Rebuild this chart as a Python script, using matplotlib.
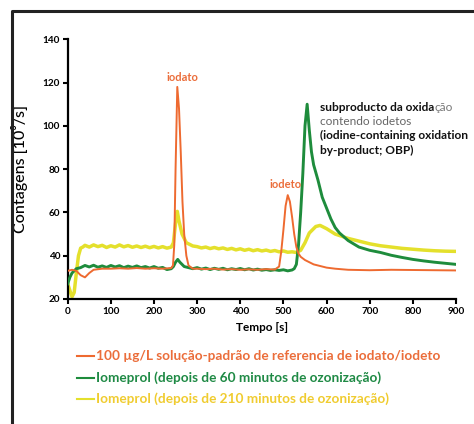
import matplotlib
matplotlib.use("Agg")
import matplotlib.pyplot as plt
from matplotlib.lines import Line2D

plt.rcParams['font.family'] = ['Lato', 'DejaVu Sans']

# ---------------- data ----------------
orange_t = [0, 10, 20, 30, 40, 50, 60, 80, 100, 120, 140, 160, 180, 200, 220, 240, 244, 247, 250, 254, 258,
            262, 266, 270, 275, 280, 290, 300, 320, 340, 360, 380, 400, 420, 440, 460, 480, 490, 495, 500, 505,
            510, 515, 520, 525, 530, 535, 540, 550, 560, 570, 580, 600, 620, 650, 700, 750, 800, 850, 900]
orange_v = [33, 33.5, 33, 31, 30, 32, 33.5, 34, 34, 34.2, 34, 34.3, 34, 34.2, 34, 34.3, 35.5, 45, 80, 118, 108,
            88, 65, 50, 40, 35.5, 34, 34, 33.8, 34, 33.6, 33.8, 33.5, 33.7, 33.5, 33.8, 33.6, 35, 42, 52, 63,
            68, 65, 58, 50, 44, 41, 39.5, 38, 37, 36, 35.5, 34.5, 34, 33.5, 33.3, 33.5, 33.4, 33.3, 33.2]

green_t = [0, 5, 10, 15, 20, 30, 40, 50, 60, 70, 80, 90, 100, 110, 120, 130, 140, 150, 160, 170, 180, 190,
           200, 210, 220, 230, 240, 245, 250, 255, 260, 265, 270, 280, 290, 300, 310, 320, 330, 340, 350,
           360, 370, 380, 390, 400, 410, 420, 430, 440, 450, 460, 470, 480, 490, 500, 510, 520, 525, 530,
           535, 540, 545, 550, 555, 560, 565, 570, 580, 590, 600, 610, 620, 630, 650, 675, 700, 725, 750,
           775, 800, 825, 850, 875, 900]
green_v = [27, 30, 32, 33, 34, 34.5, 35.5, 34.8, 35.6, 34.7, 35.3, 34.6, 35.5, 34.8, 35.4, 34.5, 35.2, 34.6,
           35.3, 34.5, 35, 34.3, 35, 34.2, 34.6, 33.6, 34, 35, 37, 38.3, 37, 36, 35, 34.5, 34, 34.5, 33.8,
           34.3, 33.6, 34.2, 33.7, 34.2, 33.5, 34, 33.6, 34.1, 33.5, 34, 33.4, 33.8, 33.3, 33.6, 33.2, 33.5,
           33.2, 33.5, 33, 33.4, 34, 36, 45, 60, 78, 100, 110, 98, 88, 82, 75, 67, 62, 57, 53, 50.5, 47, 44,
           42.5, 41.5, 40.2, 39.2, 38.3, 37.6, 37, 36.5, 36]

yellow_t = [0, 5, 10, 15, 20, 25, 30, 35, 40, 50, 60, 70, 80, 90, 100, 110, 120, 130, 140, 150, 160, 170,
            180, 190, 200, 210, 220, 230, 240, 245, 250, 254, 258, 265, 275, 290, 300, 310, 320, 330, 340,
            350, 360, 370, 380, 390, 400, 410, 420, 430, 440, 450, 460, 470, 480, 490, 500, 510, 520, 530,
            540, 550, 560, 575, 585, 600, 620, 650, 680, 700, 725, 750, 775, 800, 825, 850, 875, 900]
yellow_v = [27, 24, 21, 23, 32, 40, 43.5, 44, 44.8, 44, 45, 44.2, 44.8, 43.8, 44.6, 44, 45, 44.1, 44.7,
            43.9, 44.5, 43.8, 44.4, 43.7, 44.3, 43.6, 44.2, 43.5, 44, 46, 55, 60.5, 56, 50, 46, 44.5, 44.2,
            43.6, 44, 43.3, 43.8, 43.2, 43.6, 42.9, 43.4, 42.7, 43.2, 42.5, 43, 42.3, 42.8, 42.2, 42.6,
            42, 42.4, 41.8, 42.2, 41.6, 41.8, 41.5, 42.5, 46, 50.5, 53.5, 54, 52.5, 50, 48, 46.5, 45.5,
            44.6, 44, 43.4, 43, 42.6, 42.3, 42.1, 42]

series_labels = ["100 µg/L solução-padrão de referencia de iodato/iodeto",
                 "Iomeprol (depois de 60 minutos de ozonização)",
                 "Iomeprol (depois de 210 minutos de ozonização)"]

x_ticks = [0, 100, 200, 300, 400, 500, 600, 700, 800, 900]
y_ticks = [20, 40, 60, 80, 100, 120, 140]

c_orange = "#EE6A30"
c_green = "#1E8C3C"
c_yellow = "#E4E02C"
c_orange_txt = "#EB6D3A"
c_green_txt = "#1F8A45"
c_yellow_txt = "#F0CC30"

# ---------------- figure ----------------
W, H = 474, 424
fig = plt.figure(figsize=(W / 100, H / 100), dpi=100)
ax = fig.add_axes([67.7 / W, 1 - 299 / H, (456 - 67.7) / W, (299 - 39.3) / H])

ax.plot(yellow_t, yellow_v, color=c_yellow, lw=2.5, zorder=2)
ax.plot(green_t, green_v, color=c_green, lw=2.1, zorder=3)
ax.plot(orange_t, orange_v, color=c_orange, lw=1.4, zorder=4)

ax.set_xlim(0, 900)
ax.set_ylim(20, 140)
ax.set_xticks(x_ticks)
ax.set_yticks(y_ticks)
for s in ['top', 'right']:
    ax.spines[s].set_visible(False)
for s in ['left', 'bottom']:
    ax.spines[s].set_linewidth(1.6)
ax.tick_params(direction='out', length=3.5, width=1.5, labelsize=7.2, pad=2)
for lab in ax.get_xticklabels() + ax.get_yticklabels():
    lab.set_fontweight('bold')

ax.set_ylabel("Contagens [10³/s]", fontsize=11.5, fontweight='medium')
ax.yaxis.set_label_coords(-0.103, 0.5)
ax.set_xlabel("Tempo [s]", fontsize=8.5, fontweight='bold')
ax.xaxis.set_label_coords(0.5, -0.09)

# peak labels
ax.text(265, 122.5, "iodato", color=c_orange_txt, fontsize=8, fontweight='bold', ha='center', va='center')
ax.text(504, 73, "iodeto", color=c_orange_txt, fontsize=8, fontweight='bold', ha='center', va='center')

# OBP annotation
fs = 8.6
t1 = ax.text(585, 108.7, "subproducto da oxida", color='#111111', fontsize=fs, fontweight='bold',
             ha='left', va='center', clip_on=False)
fig.canvas.draw()
bb = t1.get_window_extent()
x_end = ax.transData.inverted().transform((bb.x1, bb.y0))[0]
ax.text(x_end, 108.7, "ção", color='#777777', fontsize=fs, ha='left', va='center', clip_on=False)
ax.text(585, 102.2, "contendo iodetos", color='#666666', fontsize=fs, ha='left', va='center')
ax.text(585, 95.4, "(iodine-containing oxidation", color='#111111', fontsize=fs, fontweight='bold',
        ha='left', va='center', clip_on=False)
ax.text(585, 88.5, "by-product; OBP)", color='#111111', fontsize=fs, fontweight='bold',
        ha='left', va='center')

# legend (manual)
leg_y = [356, 378, 399]
leg_lc = [c_orange, c_green, c_yellow]
leg_tc = [c_orange_txt, c_green_txt, c_yellow_txt]
for y, lab, lc, tc in zip(leg_y, series_labels, leg_lc, leg_tc):
    fig.add_artist(Line2D([77 / W, 94 / W], [1 - y / H, 1 - y / H], color=lc, lw=1.5))
    fig.text(96.5 / W, 1 - y / H, lab, color=tc, fontsize=9.8, fontweight='bold', ha='left', va='center')

# outer frame (left and top only)
fig.add_artist(Line2D([12 / W, 12 / W, 1.0],
                      [0, 1 - 11 / H, 1 - 11 / H], color='#222222', lw=2.2))

fig.savefig("out.png", dpi=100)
